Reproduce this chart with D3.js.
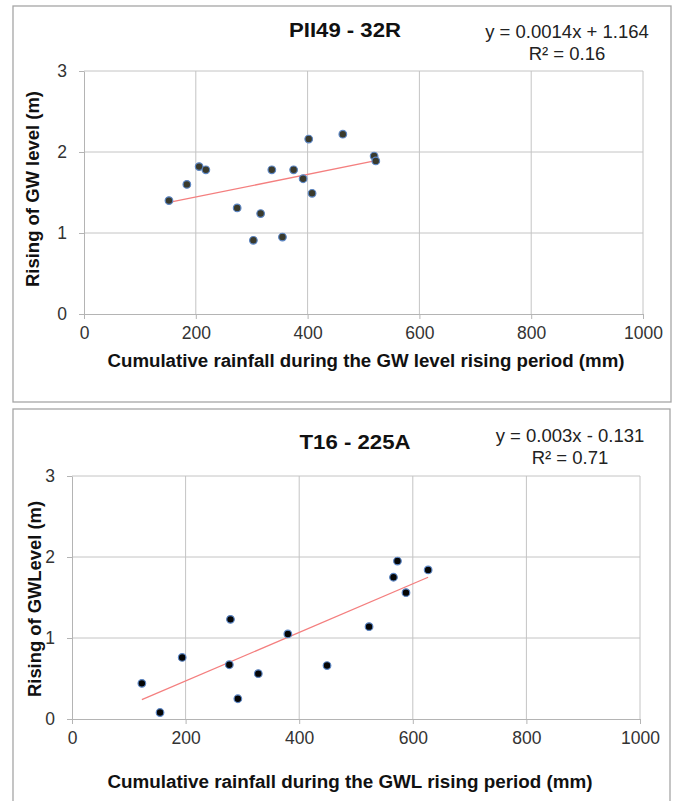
<!DOCTYPE html>
<html>
<head>
<meta charset="utf-8">
<script src="https://cdn.jsdelivr.net/npm/d3@7"></script>
<style>
  html, body { margin: 0; padding: 0; background: #fff; }
  svg text { font-family: "Liberation Sans", Arial, sans-serif; }
</style>
</head>
<body>
<svg width="678" height="801"></svg>
<script>
// data
var xTicks = [0, 200, 400, 600, 800, 1000];
var yTicks = [0, 1, 2, 3];

var rainTop = [152, 184, 206, 218, 274, 303, 316, 336, 355, 375, 392, 402, 408, 463, 519, 522];
var riseTop = [1.40, 1.60, 1.82, 1.78, 1.31, 0.91, 1.24, 1.78, 0.95, 1.78, 1.67, 2.16, 1.49, 2.22, 1.95, 1.89];
var fitTop = [0.0014, 1.164];

var rainBottom = [123, 155, 194, 279, 277, 292, 328, 380, 449, 523, 566, 573, 588, 627];
var riseBottom = [0.44, 0.08, 0.76, 1.23, 0.67, 0.25, 0.56, 1.05, 0.66, 1.14, 1.75, 1.95, 1.56, 1.84];
var fitBottom = [0.003, -0.131];

var titles = ["PII49  - 32R", "T16 - 225A"];
var eqLabels = ["y = 0.0014x  + 1.164", "y = 0.003x - 0.131"];
var r2Labels = ["R\u00b2 = 0.16", "R\u00b2 = 0.71"];
var xTitles = ["Cumulative rainfall during the GW level rising period (mm)",
               "Cumulative rainfall  during the GWL rising period (mm)"];
var yTitles = ["Rising of GW level (m)", "Rising of GWLevel (m)"];

var GRID = "#c4c4c4";
var TICK_TEXT = "#333";

var svg = d3.select("svg");

function label(g, xy, txt, size, bold, len, rotate) {
    var t = g.append("text")
        .attr("transform", "translate(" + xy[0] + "," + xy[1] + ")" + (rotate ? " rotate(-90)" : ""))
        .attr("text-anchor", "middle").attr("dy", "0.35em")
        .style("font-size", size + "px")
        .style("font-weight", bold ? "bold" : "normal")
        .attr("fill", bold ? "#111" : "#222")
        .text(txt);
    if (len) {
        t.attr("textLength", len).attr("lengthAdjust", "spacingAndGlyphs");
    }
    return t;
}

function drawPanel(p) {
    var g = svg.append("g");

    g.append("rect")
        .attr("x", p.box[0]).attr("y", p.box[1])
        .attr("width", p.box[2]).attr("height", p.box[3])
        .attr("fill", "#fff")
        .attr("stroke", "#a6a6a6")
        .attr("stroke-width", 1.3);

    var x = d3.scaleLinear().domain([0, 1000]).range([p.left, p.right]);
    var y = d3.scaleLinear().domain([0, 3]).range([p.bottom, p.top]);

    // gridlines
    g.selectAll(".vg").data(xTicks.slice(1)).enter().append("line")
        .attr("x1", function (d) { return x(d); })
        .attr("x2", function (d) { return x(d); })
        .attr("y1", p.top).attr("y2", p.bottom)
        .attr("stroke", GRID).attr("stroke-width", 1);
    g.selectAll(".hg").data(yTicks.slice(1)).enter().append("line")
        .attr("x1", p.left).attr("x2", p.right)
        .attr("y1", function (d) { return y(d); })
        .attr("y2", function (d) { return y(d); })
        .attr("stroke", GRID).attr("stroke-width", 1);

    // axes
    var xAxis = g.append("g")
        .attr("transform", "translate(0," + p.bottom + ")")
        .call(d3.axisBottom(x).tickValues(xTicks).tickFormat(d3.format("d"))
            .tickSize(5).tickPadding(8).tickSizeOuter(0));
    var yAxis = g.append("g")
        .attr("transform", "translate(" + p.left + ",0)")
        .call(d3.axisLeft(y).tickValues(yTicks).tickFormat(d3.format("d"))
            .tickSize(5).tickPadding(12).tickSizeOuter(0));
    [xAxis, yAxis].forEach(function (a) {
        a.select(".domain").attr("stroke", "#b4b4b4");
        a.selectAll(".tick line").attr("stroke", "#b4b4b4");
        a.selectAll(".tick text")
            .attr("fill", TICK_TEXT)
            .style("font-size", "17.5px")
            .style("font-family", "'Liberation Sans', Arial, sans-serif");
    });

    // trend line across the observed range
    var ext = d3.extent(p.rain);
    g.append("line")
        .attr("x1", x(ext[0])).attr("y1", y(p.fit[0] * ext[0] + p.fit[1]))
        .attr("x2", x(ext[1])).attr("y2", y(p.fit[0] * ext[1] + p.fit[1]))
        .attr("stroke", "#f47f7f").attr("stroke-width", 1.3);

    // points
    g.selectAll(".pt").data(p.rain).enter().append("circle")
        .attr("cx", function (d) { return x(d); })
        .attr("cy", function (d, i) { return y(p.rise[i]); })
        .attr("r", 3.8)
        .attr("fill", p.dot)
        .attr("stroke", "#5c86c4")
        .attr("stroke-width", 1.2);

    // texts
    label(g, p.titleXY, p.title, 21, true, p.titleLen);
    label(g, p.eqXY, p.eq, 18.5, false);
    label(g, [p.eqXY[0], p.eqXY[1] + 21.5], p.r2, 18.5, false);
    label(g, p.xTitleXY, p.xTitle, 17.5, true, p.xTitleLen);
    label(g, p.yTitleXY, p.yTitle, 17.5, true, 196, true);
}

drawPanel({
    box: [13, 6, 658, 396],
    left: 84, right: 643, top: 71, bottom: 314,
    rain: rainTop, rise: riseTop, fit: fitTop, dot: "#3a3a2c",
    title: titles[0], eq: eqLabels[0], r2: r2Labels[0],
    xTitle: xTitles[0], yTitle: yTitles[0],
    titleXY: [345, 30], titleLen: 112, eqXY: [567, 32],
    xTitleXY: [366, 361], xTitleLen: 517, yTitleXY: [33, 189]
});

drawPanel({
    box: [13, 409, 657, 400],
    left: 72, right: 640, top: 476, bottom: 719,
    rain: rainBottom, rise: riseBottom, fit: fitBottom, dot: "#050505",
    title: titles[1], eq: eqLabels[1], r2: r2Labels[1],
    xTitle: xTitles[1], yTitle: yTitles[1],
    titleXY: [355, 442], titleLen: 111, eqXY: [570, 436],
    xTitleXY: [350, 782], xTitleLen: 485, yTitleXY: [35, 599]
});
</script>
</body>
</html>
